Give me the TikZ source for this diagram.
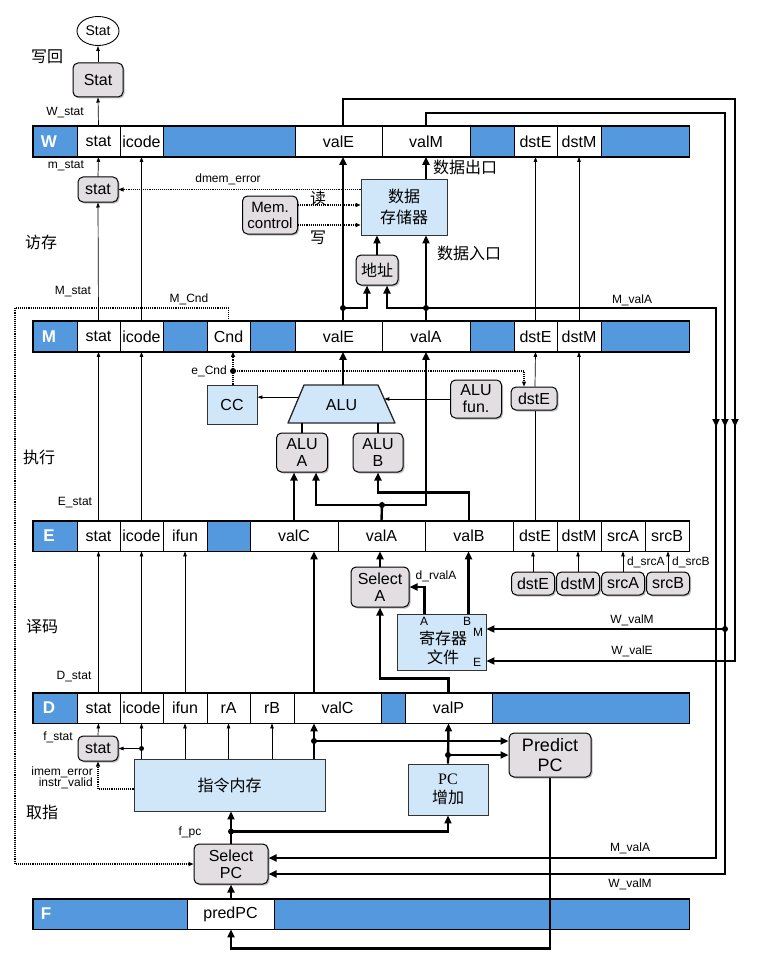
\documentclass[tikz,border=0pt]{standalone}
\usepackage{fontspec}
\setmainfont{Liberation Sans}
\newfontfamily\cjk{Noto Sans CJK SC}
\newfontfamily\pcserif{Liberation Serif}
\usetikzlibrary{arrows.meta,shapes.geometric,shadows,calc}

\definecolor{regblue}{RGB}{84,153,222}
\definecolor{hwblue}{RGB}{208,231,249}
\definecolor{ctrlgray}{RGB}{226,222,226}

\tikzset{
  cell/.style={draw, line width=0.8pt, minimum height=30pt, inner sep=0pt, font=\fontsize{16}{18}\selectfont},
  stagelbl/.style={text=white, inner sep=0pt, font=\fontsize{17}{18}\selectfont\bfseries},
  ctrl/.style={draw, line width=1pt, rounded corners=5pt, fill=ctrlgray, align=center, inner sep=0pt,
    font=\fontsize{16}{17}\selectfont, drop shadow={shadow xshift=1.5pt, shadow yshift=-1.5pt, fill=black!50}},
  hw/.style={draw=black!80, line width=0.9pt, fill=hwblue, align=center, inner sep=0pt,
    font=\fontsize{16}{19}\selectfont, drop shadow={shadow xshift=1.2pt, shadow yshift=-1.2pt, fill=black!35}},
  alubody/.style={draw=black!85, line width=1.3pt, fill=hwblue, line join=round},
  sig/.style={font=\fontsize{12}{13}\selectfont, inner sep=0pt},
  stage/.style={font=\cjk\fontsize{16}{18}\selectfont, inner sep=0pt},
  thinarr/.style={line width=0.7pt, -{Triangle[length=5pt,width=3.5pt]}},
  bus/.style={line width=2.4pt, -{Triangle[length=8pt,width=7pt]}},
  busline/.style={line width=2.4pt},
  ctl/.style={densely dotted, line width=1.1pt, -{Triangle[length=5pt,width=4pt]}},
}

% one pipeline register: row name, y centre, cells, last cell
\newcommand\pipereg[4]{%
  \foreach \xa/\xb/\nm/\txt/\fc in {#3}{%
    \pgfmathsetmacro\cw{\xb-\xa}
    \node[cell, fill=\fc, minimum width=\cw pt] (#1-\nm) at ({(\xa+\xb)/2},#2) {\txt};
  }
  \draw[line width=1.5pt] (#1-lbl.north west) rectangle (#1-#4.south east);
}

\begin{document}
\begin{tikzpicture}[x=1pt, y=-1pt]
\useasboundingbox (0,0) rectangle (765,960);

% pipeline registers
\pipereg{W}{141.5}{33/77/lbl//regblue, 77/120/stat/stat/white, 120/163/icode/icode/white,
  163/295/b1//regblue, 295/382/valE/valE/white, 382/470/valM/valM/white, 470/514/b2//regblue,
  514/557/dstE/dstE/white, 557/601/dstM/dstM/white, 601/689/end//regblue}{end}
\pipereg{M}{336.5}{33/77/lbl//regblue, 77/120/stat/stat/white, 120/163/icode/icode/white,
  163/207/b1//regblue, 207/250/Cnd/Cnd/white, 250/295/b2//regblue, 295/382/valE/valE/white,
  382/470/valA/valA/white, 470/514/b3//regblue, 514/557/dstE/dstE/white, 557/601/dstM/dstM/white,
  601/689/end//regblue}{end}
\pipereg{E}{536}{33/77/lbl//regblue, 77/120/stat/stat/white, 120/163/icode/icode/white,
  163/207/ifun/ifun/white, 207/250/b1//regblue, 250/338/valC/valC/white, 338/425/valA/valA/white,
  425/513/valB/valB/white, 513/557/dstE/dstE/white, 557/601/dstM/dstM/white,
  601/645/srcA/srcA/white, 645/689/srcB/srcB/white}{srcB}
\pipereg{D}{708}{33/77/lbl//regblue, 77/120/stat/stat/white, 120/163/icode/icode/white,
  163/207/ifun/ifun/white, 207/250/rA/rA/white, 250/294/rB/rB/white, 294/381/valC/valC/white,
  381/405/b1//regblue, 405/492/valP/valP/white, 492/689/end//regblue}{end}
\pipereg{F}{914}{33/187/lbl//regblue, 187/274/predPC/predPC/white, 274/689/end//regblue}{end}

\foreach \s/\y in {W/141.5, M/336.5, E/536, D/708}
  \node[stagelbl] (\s-name) at (49,\y) {\s};
\node[stagelbl] (F-name) at (46,914) {F};

% stage names
\node[stage] (wbname) at (47,57) {写回};
\node[stage] (memname) at (41,242) {访存};
\node[stage] (exname) at (39,457) {执行};
\node[stage] (decname) at (42,627) {译码};
\node[stage] (fetname) at (42,812) {取指};

% blocks
\node[draw, ellipse, fill=white, line width=0.9pt, minimum width=42pt, minimum height=29pt,
  inner sep=0pt, font=\fontsize{14}{15}\selectfont] (statout) at (98,31) {Stat};
\node[ctrl, minimum width=50pt, minimum height=34pt] (wstat) at (98,80) {Stat};
\node[ctrl, minimum width=40pt, minimum height=25pt] (mstat) at (98,189.5) {stat};
\node[ctrl, minimum width=55pt, minimum height=38pt, font=\fontsize{15}{16}\selectfont] (memctl) at (270,215) {Mem.\\control};
\node[hw, minimum width=86pt, minimum height=56pt, font=\cjk\fontsize{16}{21}\selectfont] (dmem) at (404,207) {数据\\存储器};
\node[ctrl, minimum width=42pt, minimum height=30pt, font=\cjk\fontsize{16}{17}\selectfont] (addr) at (377,270) {地址};
\node[hw, minimum width=50pt, minimum height=39pt] (cc) at (232,404.5) {CC};
% ALU
\coordinate (alubl) at (288,423);
\coordinate (alutl) at (304,385);
\coordinate (alutr) at (378,385);
\coordinate (alubr) at (395,423);
\draw[alubody] (alubl) -- (alutl) -- (alutr) -- (alubr) -- cycle;
\node[inner sep=0pt, font=\fontsize{16}{17}\selectfont] (alu) at (341.5,405) {ALU};
\node[ctrl, minimum width=51pt, minimum height=39pt] (alua) at (302,452.5) {ALU\\A};
\node[ctrl, minimum width=50pt, minimum height=39pt] (alub) at (378,452.5) {ALU\\B};
\node[ctrl, minimum width=51pt, minimum height=38pt] (alufun) at (476,399) {ALU\\fun.};
\node[ctrl, minimum width=46pt, minimum height=23pt] (edstE) at (534,398.5) {dstE};
\node[ctrl, minimum width=58pt, minimum height=40pt] (sela) at (380,587) {Select\\A};
\node[hw, minimum width=89pt, minimum height=56pt] (regf) at (441.5,642) {};
\node[align=center, inner sep=0pt, font=\cjk\fontsize{16}{19}\selectfont] (regftxt) at (443,648) {寄存器\\文件};
\foreach \n/\x in {dstE/533, dstM/578, srcA/623, srcB/668}
  \node[ctrl, minimum width=43pt, minimum height=23pt] (d\n) at (\x,583.5) {\n};
\node[ctrl, minimum width=40pt, minimum height=25pt] (fstat) at (98,748.5) {stat};
\node[hw, minimum width=191pt, minimum height=52pt, font=\cjk\fontsize{16}{18}\selectfont] (imem) at (229.5,785) {指令内存};
\node[hw, minimum width=80pt, minimum height=51pt, font=\fontsize{16}{19}\selectfont] (pcinc) at (448,789.5) {{\pcserif PC}\\{\cjk 增加}};
\node[ctrl, minimum width=82pt, minimum height=44pt, font=\fontsize{18}{20}\selectfont] (predpc) at (550,755) {Predict\\PC};
\node[ctrl, minimum width=74pt, minimum height=40pt] (selpc) at (231,864) {Select\\PC};

% register file ports
\node[sig] (rfAl) at (424,621) {A};
\node[sig] (rfBl) at (467,621) {B};
\node[sig] (rfMl) at (478,632) {M};
\node[sig] (rfEl) at (477,662) {E};

% signal names
\node[sig] (lwstat) at (65,113) {W\_stat};
\node[sig] (lmstat) at (66,166) {m\_stat};
\node[sig] (ldmerr) at (228,179) {dmem\_error};
\node[stage] (lread) at (318,198) {读};
\node[stage] (lwrite) at (318,238) {写};
\node[stage] (ldout) at (465,167) {数据出口};
\node[stage] (ldin) at (469,253) {数据入口};
\node[sig] (lMstat) at (73,292) {M\_stat};
\node[sig] (lMcnd) at (189,299) {M\_Cnd};
\node[sig] (lmvala) at (632,300) {M\_valA};
\node[sig, anchor=east] (lecnd) at (227,371) {e\_Cnd};
\node[sig] (lEstat) at (75,503) {E\_stat};
\node[sig] (ldrvala) at (436,576) {d\_rvalA};
\node[sig, anchor=west] (ldsrca) at (627,562) {d\_srcA};
\node[sig, anchor=west] (ldsrcb) at (672,562) {d\_srcB};
\node[sig] (lwvalm) at (632,620) {W\_valM};
\node[sig] (lwvale) at (632,651) {W\_valE};
\node[sig] (lDstat) at (74,677) {D\_stat};
\node[sig] (lfstat) at (58,737) {f\_stat};
\node[sig, anchor=east] (limerr) at (93,772) {imem\_error};
\node[sig, anchor=east] (linval) at (93,783) {instr\_valid};
\node[sig] (lfpc) at (190,832) {f\_pc};
\node[sig] (lmvala2) at (630,848) {M\_valA};
\node[sig] (lwvalm2) at (630,884) {W\_valM};

\coordinate (marky) at (0,427);

% write back
\draw[thinarr] (W-stat.north) -- (wstat.south);
\draw[thinarr] (wstat.north) -- (statout.south);
\coordinate (wveu) at (343,99);
\coordinate (wver) at (735,99);
\draw[bus] (wveu |- W-valE.north) -- (wveu) -- (wver) |- ([yshift=-19pt]regf.east);
\draw[bus] (wver) -- (wver |- marky);
\coordinate (wvmu) at (426,113);
\coordinate (wvmr) at (725,113);
\coordinate (wvmd) at (725,629);
\draw[bus] (W-valM.north) -- (wvmu) -- (wvmr) |- ([yshift=-10pt]selpc.east);
\draw[bus] (wvmr) -- (wvmr |- marky);
\draw[bus] (wvmd) -- ([yshift=13pt]regf.east);
\fill (wvmd) circle (3pt);

% memory
\draw[thinarr] (mstat.north) -- (W-stat.south);
\draw[thinarr] (M-stat.north) -- (mstat.south);
\draw[thinarr] (M-icode.north) -- (W-icode.south);
\draw[thinarr] (M-dstE.north) -- (W-dstE.south);
\draw[thinarr] (M-dstM.north) -- (W-dstM.south);
\coordinate (mve) at (343,308);
\coordinate (mva) at (426,308);
\coordinate (mvar) at (716,308);
\draw[bus] (mve |- M-valE.north) -- (mve |- W-valE.south);
\draw[bus] (mve) -| ([xshift=-10pt]addr.south);
\draw[bus] (M-valA.north) -- (M-valA.north |- dmem.south);
\draw[bus] (mva) -| ([xshift=10pt]addr.south);
\draw[bus] (mva) -- (mvar) |- ([yshift=6pt]selpc.east);
\draw[bus] (mvar) -- (mvar |- marky);
\fill (mve) circle (3pt);
\fill (mva) circle (3pt);
\draw[bus] (addr.north) -- (addr.north |- dmem.south);
\draw[bus] (dmem.north -| W-valM) -- (W-valM.south);
\draw[ctl] ([yshift=10pt]memctl.east) -- ([yshift=10pt]memctl.east -| dmem.west);
\draw[ctl] ([yshift=-10pt]memctl.east) -- ([yshift=-10pt]memctl.east -| dmem.west);
\draw[ctl] (mstat.east -| dmem.west) -- (mstat.east);
\coordinate (cndl) at (15,308);
\draw[ctl] (M-Cnd.north) |- (cndl) |- (selpc.west);

% execute
\draw[thinarr] (E-stat.north) -- (M-stat.south);
\draw[thinarr] (E-icode.north) -- (M-icode.south);
\draw[thinarr] (E-dstM.north) -- (M-dstM.south);
\draw[line width=0.7pt] (E-dstE.north) -- (E-dstE.north |- edstE.south);
\draw[thinarr] (edstE.north -| E-dstE) -- (M-dstE.south);
\draw[bus] (E-valC.north) -- (E-valC.north |- alua.south);
\coordinate (eva) at (382,505);
\draw[busline] (E-valA.north) -- (eva);
\draw[bus] (eva) -| ([xshift=14pt]alua.south);
\draw[bus] (eva) -| (M-valA.south);
\fill (eva) circle (3pt);
\draw[bus] (E-valB.north) -- ++(0,-28) -| (alub.south);
\draw[line width=1.2pt] (alua.north) -- (alua.north |- alubl);
\draw[line width=1.2pt] (alub.north) -- (alub.north |- alubl);
\draw[bus] (mve |- alutl) -- (mve |- M-valE.south);
\coordinate (alucc) at ($(alubl)!0.68!(alutl)$);
\coordinate (alufn) at ($(alubr)!0.63!(alutr)$);
\draw[thinarr] (alucc) -- (alucc -| cc.east);
\draw[thinarr] (alufun.west) -- (alufun.west -| alufn);
\coordinate (ecnd) at (233,371);
\draw[densely dotted, line width=1.1pt] (cc.north -| ecnd) -- (ecnd);
\draw[ctl] (ecnd) -- (ecnd |- M-Cnd.south);
\draw[ctl] (ecnd) -| ([xshift=-10pt]edstE.north);
\fill (ecnd) circle (3pt);

% decode
\draw[thinarr] (D-stat.north) -- (E-stat.south);
\draw[thinarr] (D-icode.north) -- (E-icode.south);
\draw[thinarr] (D-ifun.north) -- (E-ifun.south);
\coordinate (cdot) at (314,741);
\draw[bus] (D-valC.north -| cdot) -- (E-valC.south -| cdot);
\draw[bus] (D-valP.north) -- ++(0,-14) -| (sela.south);
\draw[bus] (sela.north) -- (sela.north |- E-valA.south);
\coordinate (rfa) at ([xshift=-17pt]regf.north);
\coordinate (rfb) at ([xshift=27pt]regf.north);
\draw[bus] (rfa) |- (sela.east);
\draw[bus] (rfb) -- (rfb |- E-valB.south);
\foreach \n in {dstE,dstM,srcA,srcB}
  \draw[thinarr] (d\n.north) -- (d\n.north |- E-\n.south);

% fetch
\draw[thinarr] (fstat.north) -- (D-stat.south);
\draw[thinarr] (imem.north -| D-icode) -- (D-icode.south);
\coordinate (fic) at (D-icode |- fstat.east);
\draw[thinarr] (fic) -- (fstat.east);
\fill (fic) circle (2.5pt);
\draw[thinarr] (imem.north -| D-ifun) -- (D-ifun.south);
\draw[thinarr] (imem.north -| D-rA) -- (D-rA.south);
\draw[thinarr] (imem.north -| D-rB) -- (D-rB.south);
\draw[bus] (imem.north -| cdot) -- (D-valC.south -| cdot);
\draw[bus] (cdot) -- (cdot -| predpc.west);
\coordinate (pdot) at (pcinc.north |- predpc.west);
\draw[bus] (pcinc.north) -- (D-valP.south);
\draw[bus] (pdot) -- (predpc.west);
\fill (cdot) circle (3pt);
\fill (pdot) circle (3pt);
\draw[ctl] ([yshift=-4pt]imem.west) -| (fstat.south);
\draw[bus] (selpc.north) -- (selpc.north |- imem.south);
\coordinate (fpc) at ([yshift=12pt]selpc.north);
\draw[bus] (fpc) -| (pcinc.south);
\fill (fpc) circle (3pt);
\draw[bus] (selpc.south |- F-predPC.north) -- (selpc.south);
\draw[bus] (predpc.south) |- ([yshift=-19pt]F-predPC.south -| selpc) -- (F-predPC.south -| selpc);
\end{tikzpicture}
\end{document}
